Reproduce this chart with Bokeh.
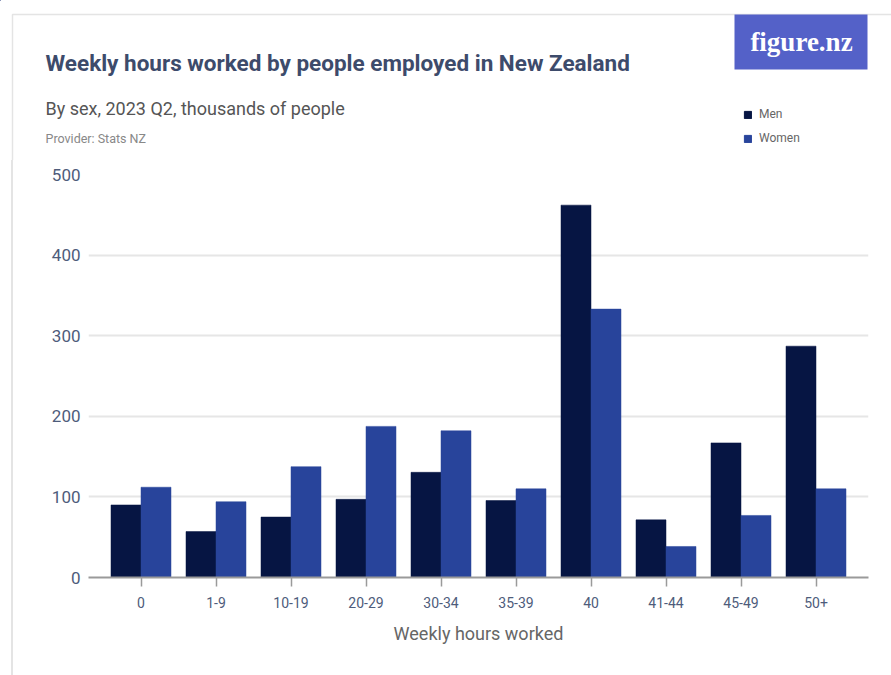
from bokeh.plotting import figure
from bokeh.layouts import column, row
from bokeh.models import (ColumnDataSource, FactorRange, Range1d, Label, Legend, LegendItem)
from bokeh.transform import dodge
from bokeh.embed import file_html
from bokeh.resources import INLINE

categories = ["0", "1-9", "10-19", "20-29", "30-34", "35-39", "40", "41-44", "45-49", "50+"]
men = [90, 57, 75, 97, 130.5, 95.5, 462, 71.5, 167, 287]
women = [112, 94, 137.5, 187.5, 182, 110, 333, 38.5, 77, 110]
y_ticks = [0, 100, 200, 300, 400, 500]

MEN_C = "#061543"
WOMEN_C = "#28449b"
SLATE = "#4e5c7b"
CARD = "#e4e4e4"
FONT = "Roboto"

W = 891
HEAD_H = 160
MAIN_H = 675 - HEAD_H

# ---------------- header figure (title, logo, legend) ----------------
head = figure(width=W, height=HEAD_H, output_backend="svg", toolbar_location=None,
              x_range=Range1d(0, W), y_range=Range1d(HEAD_H, 0),
              x_axis_location=None, y_axis_location=None,
              min_border=0, min_border_left=0, min_border_right=0, min_border_top=0, min_border_bottom=0)
head.outline_line_color = None
head.grid.grid_line_color = None
head.border_fill_color = "white"
head.background_fill_color = "white"

# card edge
head.line(x=[12, 12, W], y=[HEAD_H, 14, 14], line_color=CARD, line_width=1.5)
# logo
head.quad(left=[734], right=[867], top=[14], bottom=[69], fill_color="#5461c8", line_color=None)
head.add_layout(Label(x=801, y=41, text="figure.nz", text_font="Liberation Serif",
                      text_font_size="27px", text_font_style="bold", text_color="white",
                      text_align="center", text_baseline="middle"))

head.add_layout(Label(x=45, y=62, text="Weekly hours worked by people employed in New Zealand",
                      text_font=FONT, text_font_size="22.5px", text_font_style="bold",
                      text_color="#3d4b6b", text_align="left", text_baseline="middle"))
head.add_layout(Label(x=45, y=108, text="By sex, 2023 Q2, thousands of people",
                      text_font=FONT, text_font_size="18px",
                      text_color="#555555", text_align="left", text_baseline="middle"))
head.add_layout(Label(x=45, y=138, text="Provider: Stats NZ",
                      text_font=FONT, text_font_size="12.5px",
                      text_color="#888888", text_align="left", text_baseline="middle"))

# legend proxies (placed outside the visible range)
lm = head.vbar(x=[-50], top=[-50], bottom=[-60], width=1, fill_color=MEN_C, line_color=MEN_C)
lw = head.vbar(x=[-50], top=[-50], bottom=[-60], width=1, fill_color=WOMEN_C, line_color=WOMEN_C)
legend = Legend(items=[LegendItem(label="Men", renderers=[lm]),
                       LegendItem(label="Women", renderers=[lw])],
                location=(743, HEAD_H - 148), orientation="vertical",
                glyph_width=9, glyph_height=9, label_height=20, spacing=4,
                label_standoff=7, padding=0, margin=0,
                label_text_font=FONT, label_text_font_size="12px",
                label_text_color="#666666", background_fill_alpha=0, border_line_color=None)
head.add_layout(legend, "center")

# ---------------- main chart ----------------
source = ColumnDataSource(dict(cat=categories, men=men, women=women))

p = figure(width=W, height=MAIN_H, output_backend="svg", toolbar_location=None,
           x_range=FactorRange(factors=categories, range_padding=0.2, range_padding_units="absolute"),
           y_range=Range1d(0, 500),
           min_border_left=88, min_border_right=23, min_border_top=14, min_border_bottom=98,
           styles={"background": "linear-gradient(to right, white 11px, %s 11px, %s 13px, white 13px)" % (CARD, CARD)})
p.outline_line_color = None
p.background_fill_color = "white"
p.border_fill_alpha = 0

p.vbar(x=dodge("cat", -0.2, range=p.x_range), top="men", width=0.4, source=source,
       fill_color=MEN_C, line_color=MEN_C, line_width=0.5)
p.vbar(x=dodge("cat", 0.2, range=p.x_range), top="women", width=0.4, source=source,
       fill_color=WOMEN_C, line_color=WOMEN_C, line_width=0.5)

p.xgrid.grid_line_color = None
p.ygrid.grid_line_color = "#e6e6e6"
p.ygrid.grid_line_width = 2
p.yaxis.ticker = y_ticks

p.yaxis.axis_line_color = None
p.yaxis.major_tick_line_color = None
p.yaxis.minor_tick_line_color = None
p.yaxis.major_tick_out = 0
p.yaxis.major_label_standoff = 8
p.yaxis.major_label_text_font = FONT
p.yaxis.major_label_text_font_size = "17px"
p.yaxis.major_label_text_color = SLATE

p.xaxis.axis_line_color = "#9a9a9a"
p.xaxis.axis_line_width = 2
p.xaxis.major_tick_line_color = "#9a9a9a"
p.xaxis.major_tick_line_width = 1.5
p.xaxis.major_tick_out = 9
p.xaxis.major_tick_in = 0
p.xaxis.major_label_standoff = 10
p.xaxis.major_label_text_font = FONT
p.xaxis.major_label_text_font_size = "14px"
p.xaxis.major_label_text_color = SLATE
p.xaxis.axis_label = "Weekly hours worked"
p.xaxis.axis_label_text_font = FONT
p.xaxis.axis_label_text_font_size = "18px"
p.xaxis.axis_label_text_font_style = "normal"
p.xaxis.axis_label_text_color = "#666666"
p.xaxis.axis_label_standoff = 12

layout = column(row(head), row(p), spacing=0)
open("out.html", "w").write(file_html(layout, INLINE))
